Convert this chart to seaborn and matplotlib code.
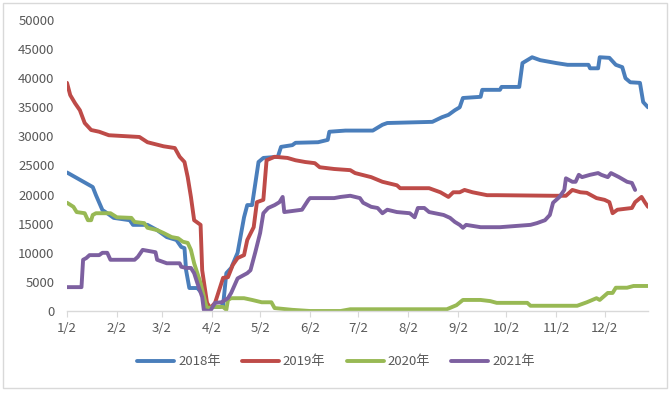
import pandas as pd
import seaborn as sns
import matplotlib.pyplot as plt
from matplotlib.patches import Rectangle

# days after Jan 2
d2018 = [0, 16, 18, 22, 25, 29, 39, 41, 50, 56, 62, 68, 71, 73, 74, 76, 81, 84, 88, 95, 97, 99, 102, 106,
         110, 112, 115, 119, 122, 131, 133, 140, 142, 156, 162, 163, 173, 190, 196, 199, 227, 233, 237,
         241, 244, 246, 257, 258, 269, 270, 281, 283, 289, 294, 304, 311, 324, 325, 330, 331, 337, 341,
         345, 347, 350, 356, 358, 361]
v2018 = [23800, 21300, 19900, 17350, 16800, 16000, 15600, 14800, 14800, 13900, 12700, 12200, 11000, 10800,
         7000, 3950, 3950, 3000, 700, 700, 1000, 6500, 7400, 10000, 16100, 18200, 18200, 25600, 26300,
         26500, 28200, 28500, 28900, 29000, 29400, 30800, 31000, 31000, 32000, 32300, 32500, 33300, 33700,
         34500, 35000, 36600, 36800, 38000, 38000, 38500, 38500, 42600, 43600, 43100, 42600, 42300, 42300,
         41700, 41700, 43600, 43500, 42300, 41900, 40000, 39300, 39200, 35900, 35000]

d2019 = [0, 2, 5, 8, 11, 15, 20, 26, 45, 50, 60, 67, 70, 73, 75, 77, 79, 83, 84, 87, 89, 92, 97, 100, 103,
         106, 110, 112, 116, 118, 122, 124, 129, 137, 142, 148, 154, 157, 166, 176, 179, 189, 196, 205,
         207, 225, 232, 237, 240, 244, 247, 252, 261, 267, 302, 310, 314, 319, 323, 329, 334, 337, 339,
         342, 351, 353, 357, 359, 361]
v2019 = [39200, 37100, 35700, 34500, 32300, 31100, 30800, 30200, 29900, 29000, 28300, 28000, 26500, 25600,
         23000, 19600, 15600, 14800, 7000, 1400, 500, 1400, 5700, 5800, 7900, 9100, 9600, 12200, 14400,
         18700, 19100, 25900, 26500, 26300, 25900, 25600, 25400, 24700, 24400, 24200, 23700, 23000, 22200,
         21600, 21100, 21100, 20400, 19600, 20400, 20400, 20800, 20400, 19900, 19900, 19800, 19800, 20800,
         20400, 20300, 19400, 19100, 18700, 16800, 17400, 17700, 18700, 19600, 18700, 17900]

d2020 = [0, 4, 6, 11, 13, 15, 16, 18, 27, 31, 40, 42, 48, 50, 56, 60, 65, 69, 72, 75, 77, 79, 83, 86, 87,
         92, 97, 99, 100, 102, 110, 115, 121, 127, 129, 140, 151, 170, 176, 236, 242, 246, 257, 263, 267,
         286, 288, 317, 323, 329, 331, 336, 339, 341, 348, 352, 361]
v2020 = [18600, 17900, 17000, 16800, 15600, 15600, 16500, 16800, 16800, 16100, 16000, 15300, 15100, 14300,
         13900, 13400, 12700, 12500, 11900, 11700, 10500, 8200, 4800, 1400, 500, 700, 700, 200, 1900, 2200,
         2200, 1900, 1500, 1500, 500, 200, 0, 0, 300, 300, 1000, 1900, 1900, 1700, 1400, 1400, 900, 900,
         1500, 2200, 1900, 3100, 3100, 4000, 4000, 4300, 4300]

d2021 = [0, 9, 10, 12, 14, 20, 22, 25, 27, 42, 44, 47, 55, 56, 62, 70, 71, 74, 77, 79, 81, 84, 85, 88, 89,
         92, 96, 100, 102, 106, 112, 114, 117, 120, 122, 125, 129, 132, 134, 135, 146, 150, 151, 166, 170,
         176, 182, 184, 189, 193, 196, 199, 205, 213, 216, 218, 222, 225, 234, 238, 241, 244, 246, 248,
         257, 269, 288, 292, 297, 300, 302, 306, 309, 310, 314, 316, 318, 320, 325, 330, 332, 336, 338,
         343, 348, 351, 353]
v2021 = [4100, 4100, 8800, 9100, 9600, 9600, 10000, 10000, 8800, 8800, 9300, 10500, 10100, 8800, 8200, 8200,
         7600, 7400, 7400, 6500, 4800, 2400, 200, 0, 0, 1400, 1500, 2200, 3100, 5600, 6500, 7000, 10100,
         13400, 16800, 17700, 18200, 18700, 19600, 17000, 17400, 19100, 19400, 19400, 19600, 19800, 19400,
         18600, 17900, 17700, 16800, 17400, 17000, 16800, 16100, 17700, 17700, 17000, 16500, 16000, 15300,
         14800, 14300, 14800, 14400, 14400, 14800, 15100, 15600, 16500, 18600, 19600, 20800, 22800, 22200,
         22200, 23400, 23000, 23400, 23700, 23400, 23000, 23700, 23000, 22200, 22000, 20800]

years = ["2018年", "2019年", "2020年", "2021年"]
colors = ["#4A7EBB", "#BE4B48", "#98B954", "#7D60A0"]
months = list(range(1, 13))

base = pd.Timestamp("2021-01-02")
frames = []
for yr, dd, vv in zip(years, [d2018, d2019, d2020, d2021], [v2018, v2019, v2020, v2021]):
    frames.append(pd.DataFrame({"date": base + pd.to_timedelta(dd, unit="D"), "value": vv, "year": yr}))
df = pd.concat(frames, ignore_index=True)

sns.set_style("white")
plt.rcParams["font.family"] = ["Noto Sans CJK SC", "DejaVu Sans"]

fig = plt.figure(figsize=(6.72, 3.94), dpi=100)
ax = fig.add_axes([67 / 672, 1 - 311 / 394, (648 - 67) / 672, (311 - 20) / 394])

sns.lineplot(data=df, x="date", y="value", hue="year", palette=colors, estimator=None,
             sort=False, linewidth=2.8, ax=ax, legend=False)

ax.set_xlim(base, base + pd.Timedelta(days=361))
ax.set_ylim(0, 50000)
ax.set_yticks(range(0, 50001, 5000))
ax.set_xticks([pd.Timestamp(2021, m, 2) for m in months])
ax.set_xticklabels([f"{m}/2" for m in months])
ax.set_xlabel("")
ax.set_ylabel("")
ax.tick_params(axis="y", length=0, pad=9, labelsize=9.5, labelcolor="#595959")
ax.tick_params(axis="x", length=4, width=0.8, color="#D9D9D9", pad=4, labelsize=9.5,
               labelcolor="#595959", bottom=True)
for s in ["top", "right", "left"]:
    ax.spines[s].set_visible(False)
ax.spines["bottom"].set_color("#D9D9D9")
ax.spines["bottom"].set_linewidth(1)
ax.grid(False)

handles = [plt.Line2D([], [], color=c, linewidth=2.8) for c in colors]
fig.legend(handles, years, loc="center", bbox_to_anchor=(0.5, 1 - 362 / 394), ncol=4,
           frameon=False, fontsize=9.5, handlelength=2.8, handletextpad=0.3, columnspacing=1.6,
           labelcolor="#595959")

fig.patches.append(Rectangle((3 / 672, 6 / 394), 664 / 672, 385 / 394, transform=fig.transFigure,
                             fill=False, edgecolor="#D9D9D9", linewidth=1))

fig.savefig("out.png", dpi=100)
